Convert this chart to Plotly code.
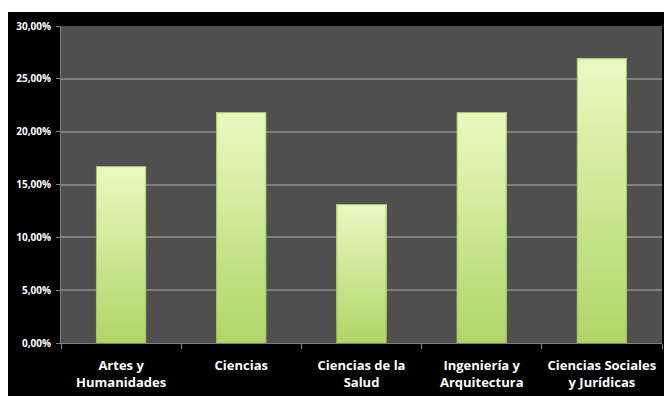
import plotly.graph_objects as go

categories = ["Artes y<br>Humanidades", "Ciencias", "Ciencias de la<br>Salud",
              "Ingeniería y<br>Arquitectura", "Ciencias Sociales<br>y Jurídicas"]
values = [0.167, 0.218, 0.131, 0.218, 0.269]
y_ticks = [0, 0.05, 0.10, 0.15, 0.20, 0.25, 0.30]

W, H = 664, 396
L, R, T, B = 61, 2, 26, 53

def lerp(c1, c2, t):
    return "rgb(%d,%d,%d)" % tuple(round(a + (b - a) * t) for a, b in zip(c1, c2))

bottom_c = (176, 214, 104)
top_c = (232, 249, 192)
N = 30
fig = go.Figure()
for i in range(N):
    t = i / (N - 1)
    fig.add_trace(go.Bar(
        x=categories,
        y=[v * (N - i) / N for v in values],
        base=[v * i / N for v in values],
        marker=dict(color=lerp(bottom_c, top_c, t), line=dict(width=0)),
        width=0.41, hoverinfo="skip", showlegend=False,
    ))
fig.add_trace(go.Bar(
    x=categories, y=values, width=0.41,
    marker=dict(color="rgba(0,0,0,0)", line=dict(color="rgb(160,196,96)", width=1)),
    hoverinfo="skip", showlegend=False,
))

pw = W - L - R
ph = H - T - B
def px_x(p): return (p - L) / pw
def px_y(p): return (H - B - p) / ph
fig.add_shape(type="rect", xref="paper", yref="paper",
              x0=px_x(-5), x1=px_x(W + 5), y0=px_y(12), y1=px_y(-5),
              fillcolor="white", line=dict(width=0), layer="above")
fig.add_shape(type="rect", xref="paper", yref="paper",
              x0=px_x(-5), x1=px_x(8), y0=px_y(H + 5), y1=px_y(-5),
              fillcolor="white", line=dict(width=0), layer="above")

fig.update_layout(
    width=W, height=H,
    margin=dict(l=L, r=R, t=T, b=B, pad=0),
    paper_bgcolor="black", plot_bgcolor="rgb(79,79,79)",
    barmode="overlay", separators=",.",
    font=dict(family="Open Sans", color="white"),
)
fig.update_xaxes(
    type="category", tickson="boundaries", ticks="outside", ticklen=5,
    tickcolor="rgb(128,128,128)", showline=True, linecolor="rgb(128,128,128)",
    linewidth=1, showgrid=False,
    tickfont=dict(family="Open Sans", size=13, color="white", weight="bold"),
    ticklabelstandoff=10,
)
fig.update_yaxes(
    range=[0, 0.30], tickvals=y_ticks, tickformat=".2%",
    ticks="outside", ticklen=4, tickcolor="rgb(128,128,128)",
    showline=True, linecolor="rgb(128,128,128)", linewidth=1,
    gridcolor="rgb(128,128,128)", gridwidth=1.5, zeroline=False,
    tickfont=dict(family="Open Sans", size=10, color="white", weight="bold"),
    ticklabelstandoff=3,
)
fig.write_html("out.html")
